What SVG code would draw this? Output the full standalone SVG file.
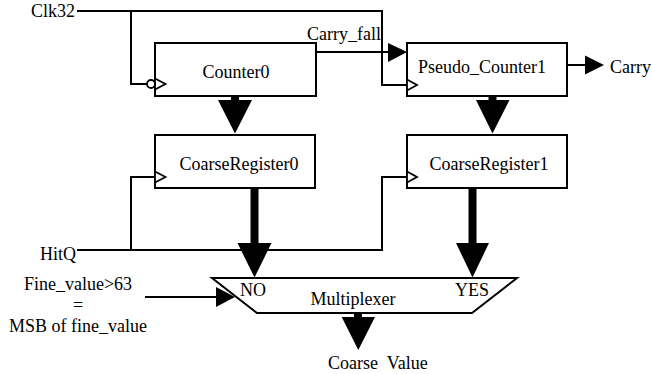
<svg xmlns="http://www.w3.org/2000/svg" width="652" height="374" viewBox="0 0 652 374">
<style>
.t{font-family:"Liberation Serif","Times New Roman",serif;font-size:18px;fill:#000}
.box{fill:#fff;stroke:#000;stroke-width:2}
.w{fill:none;stroke:#000;stroke-width:2}
.clk{fill:#fff;stroke:#000;stroke-width:1.8}
.fill{fill:#000;stroke:none}
.c{text-anchor:middle}
.e{text-anchor:end}
</style>
<rect width="652" height="374" fill="#fff"/>
<g id="connectors">
  <polyline class="w" points="77,11 382,11 382,85 407,85"/>
  <polyline class="w" points="131,11 131,84 147,84"/>
  <line class="w" x1="316" y1="52" x2="390" y2="52"/>
  <polygon class="fill" points="388,43 407,52 388,62"/>
  <line class="w" x1="567" y1="65" x2="587" y2="65"/>
  <polygon class="fill" points="585,55.5 604,65 585,74.5"/>
  <polyline class="w" points="77,250 382,250 382,177 407,177"/>
  <polyline class="w" points="131,250 131,177 155,177"/>
  <line class="w" x1="145" y1="297" x2="218" y2="297"/>
  <polygon class="fill" points="216,287 235,297 216,307"/>
  <polygon class="fill" points="231,96 239,96 239,100 252,100 235,133.5 218,100 231,100"/>
  <polygon class="fill" points="488.5,96 496.5,96 496.5,100 509.5,100 492.5,133.5 476,100 488.5,100"/>
  <polygon class="fill" points="250.5,188 258.5,188 258.5,243 271.5,243 254.5,277.5 237.5,243 250.5,243"/>
  <polygon class="fill" points="468.5,188 476.5,188 476.5,243 489,243 472.5,277.5 456,243 468.5,243"/>
  <polygon class="fill" points="354,313 362,313 362,317 375,317 358.3,350 341.7,317 354,317"/>
</g>
<g id="Counter0">
  <rect class="box" x="155" y="43" width="161" height="53"/>
  <polygon class="clk" points="155,78.5 165.5,84 155,89.5"/>
  <circle class="clk" cx="151" cy="84" r="4"/>
  <text class="t c" x="236" y="78">Counter0</text>
</g>
<g id="Pseudo_Counter1">
  <rect class="box" x="407" y="43" width="160" height="53"/>
  <polygon class="clk" points="407,79.5 417,85 407,90.5"/>
  <text class="t c" x="482" y="73">Pseudo_Counter1</text>
</g>
<g id="CoarseRegister0">
  <rect class="box" x="155" y="135" width="160" height="53"/>
  <polygon class="clk" points="155,171.5 165.5,177 155,182.5"/>
  <text class="t c" x="239" y="170">CoarseRegister0</text>
</g>
<g id="CoarseRegister1">
  <rect class="box" x="407" y="135" width="160" height="53"/>
  <polygon class="clk" points="407,171.5 417,177 407,182.5"/>
  <text class="t c" x="489" y="170">CoarseRegister1</text>
</g>
<g id="Multiplexer">
  <polygon class="box" points="212,278 517,278 472,313 257,313"/>
  <text class="t" x="240" y="296">NO</text>
  <text class="t" x="455" y="296">YES</text>
  <text class="t c" x="353" y="305">Multiplexer</text>
</g>
<g id="labels">
  <text class="t e" x="75" y="17">Clk32</text>
  <text class="t" x="307" y="40">Carry_fall</text>
  <text class="t" x="610" y="73">Carry</text>
  <text class="t e" x="76" y="260">HitQ</text>
  <text class="t c" x="78" y="290">Fine_value&gt;63</text>
  <text class="t c" x="78" y="311">=</text>
  <text class="t c" x="78" y="332">MSB of fine_value</text>
  <text class="t" x="328" y="369" xml:space="preserve">Coarse  Value</text>
</g>
</svg>
